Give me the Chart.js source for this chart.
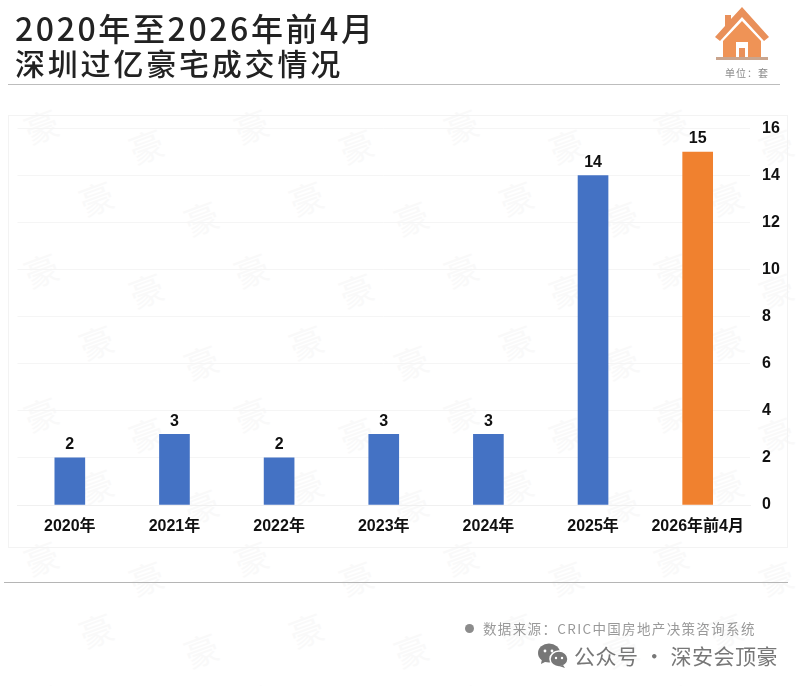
<!DOCTYPE html>
<html>
<head>
<meta charset="utf-8">
<script src="https://cdn.jsdelivr.net/npm/chart.js@4"></script>
<style>
html, body { margin: 0; padding: 0; background: #fff; }
#page { position: relative; width: 798px; height: 686px; overflow: hidden; font-family: "Noto Sans CJK SC", sans-serif; }
#page div, #page svg { position: absolute; }
#marks { left: 0; top: 0; }
.title { left: 15px; color: #222; font-weight: 500; white-space: nowrap; line-height: 36px; }
.rule { background: #bdbdbd; height: 1px; }
#card { left: 8px; top: 115px; width: 778px; height: 431px; border: 1px solid #f3f3f3; }
#myChart { position: absolute; left: 0; top: 0; }
</style>
</head>
<body>
<div id="page">
	<svg id="marks" width="798" height="686"></svg>
	<div id="card"></div>
	<canvas id="myChart" width="798" height="686"></canvas>

	<div class="title" style="top:9px;font-size:32px;letter-spacing:2.6px">2020年至2026年前4月</div>
	<div class="title" style="top:44px;font-size:30px;letter-spacing:2.8px">深圳过亿豪宅成交情况</div>
	<div class="rule" style="left:8px;top:84px;width:772px"></div>

	<svg style="left:712px;top:4px" width="60" height="58" viewBox="0 0 60 58">
		<path d="M30 3 L57 33 L52 37 L30 13 L8 37 L3 33 L13 22 L13 11 L19 11 L19 15 Z" fill="#e9905a"/>
		<path d="M30 17 L49 37 L49 53 L36 53 L36 38 L24 38 L24 53 L11 53 L11 37 Z" fill="#ef9356"/>
		<rect x="27" y="44" width="6" height="10" fill="#e9905a"/>
		<rect x="4" y="53" width="52" height="3" fill="#c9a58e"/>
	</svg>
	<div style="left:725px;top:65px;font-size:10px;letter-spacing:1px;color:#8a8a8a;white-space:nowrap">单位：套</div>

	<div class="rule" style="left:4px;top:582px;width:784px;background:#b5b5b5"></div>
	<div style="left:465px;top:624px;width:9px;height:9px;border-radius:50%;background:#8c8c8c"></div>
	<div style="left:483px;top:618px;font-size:13.5px;letter-spacing:1.35px;color:#999;white-space:nowrap">数据来源：CRIC中国房地产决策咨询系统</div>

	<svg style="left:537px;top:643px" width="32" height="26" viewBox="0 0 32 26">
		<ellipse cx="12" cy="10" rx="11" ry="9.5" fill="#777"/>
		<path d="M5 16 L4 21 L10 18 Z" fill="#777"/>
		<ellipse cx="22" cy="16" rx="9" ry="8" fill="#777" stroke="#fff" stroke-width="1.5"/>
		<path d="M26 22 L28 25 L22 23 Z" fill="#777"/>
		<circle cx="8" cy="8" r="1.4" fill="#fff"/><circle cx="15" cy="8" r="1.4" fill="#fff"/>
		<circle cx="19" cy="15" r="1.2" fill="#fff"/><circle cx="25" cy="15" r="1.2" fill="#fff"/>
	</svg>
	<div style="left:574px;top:640px;font-size:21px;letter-spacing:.5px;color:#777;white-space:nowrap">公众号 · 深安会顶豪</div>
</div>

<script>
const categories = ['2020年', '2021年', '2022年', '2023年', '2024年', '2025年', '2026年前4月'];
const values = [2, 3, 2, 3, 3, 14, 15];
const barColors = ['#4472c4', '#4472c4', '#4472c4', '#4472c4', '#4472c4', '#4472c4', '#f0812f'];
const yTicks = [0, 2, 4, 6, 8, 10, 12, 14, 16];

const labelFont = 'bold 16px "Liberation Sans", "Noto Sans CJK SC", sans-serif';

// faint watermark behind the chart
function drawWatermark() {
	const svg = document.getElementById('marks');
	let out = '';
	for (let row = 0; row < 10; row++) {
		for (let col = 0; col < 9; col++) {
			const x = col * 105 + (row % 2 ? 85 : 30);
			const y = row * 72 + (col % 2 ? 165 : 145);
			out += `<text x="${x}" y="${y}" font-size="34" fill="#f9f9f9" font-family="Noto Sans CJK SC" transform="rotate(-20 ${x} ${y})">豪</text>`;
		}
	}
	svg.innerHTML = out;
}
drawWatermark();

// numbers above the bars
const barLabels = {
	id: 'barLabels',
	afterDatasetsDraw(chart) {
		const ctx = chart.ctx;
		ctx.save();
		ctx.font = labelFont;
		ctx.fillStyle = '#111';
		ctx.textAlign = 'center';
		ctx.textBaseline = 'bottom';
		chart.getDatasetMeta(0).data.forEach((bar, i) => {
			ctx.fillText(values[i], bar.x, bar.y - 5);
		});
		ctx.restore();
	}
};

const data = {
	labels: categories,
	datasets: [{
		data: values,
		backgroundColor: barColors,
		barThickness: 30
	}]
};

const config = {
	type: 'bar',
	data: data,
	plugins: [barLabels],
	options: {
		responsive: false,
		animation: false,
		layout: { padding: { left: 17.5, top: 128.5, right: 18, bottom: 137 } },
		plugins: { legend: { display: false }, tooltip: { enabled: false } },
		scales: {
			x: {
				grid: { display: false },
				border: { color: '#f0f0f0' },
				ticks: { color: '#111', font: { size: 16, weight: 'bold', family: '"Liberation Sans", "Noto Sans CJK SC", sans-serif' }, padding: 4, maxRotation: 0 },
				afterFit(scale) { scale.height = 44; }
			},
			y: {
				position: 'right',
				min: 0,
				max: 16,
				grid: { color: '#f5f5f5', drawTicks: false },
				border: { display: false },
				afterBuildTicks(scale) { scale.ticks = yTicks.map(v => ({ value: v })); },
				ticks: { color: '#111', font: { size: 16, weight: 'bold', family: '"Liberation Sans", sans-serif' }, padding: 12 },
				afterFit(scale) { scale.width = 30; }
			}
		}
	}
};

const ctx = document.getElementById('myChart').getContext('2d');
const myChart = new Chart(ctx, config);
</script>
</body>
</html>
